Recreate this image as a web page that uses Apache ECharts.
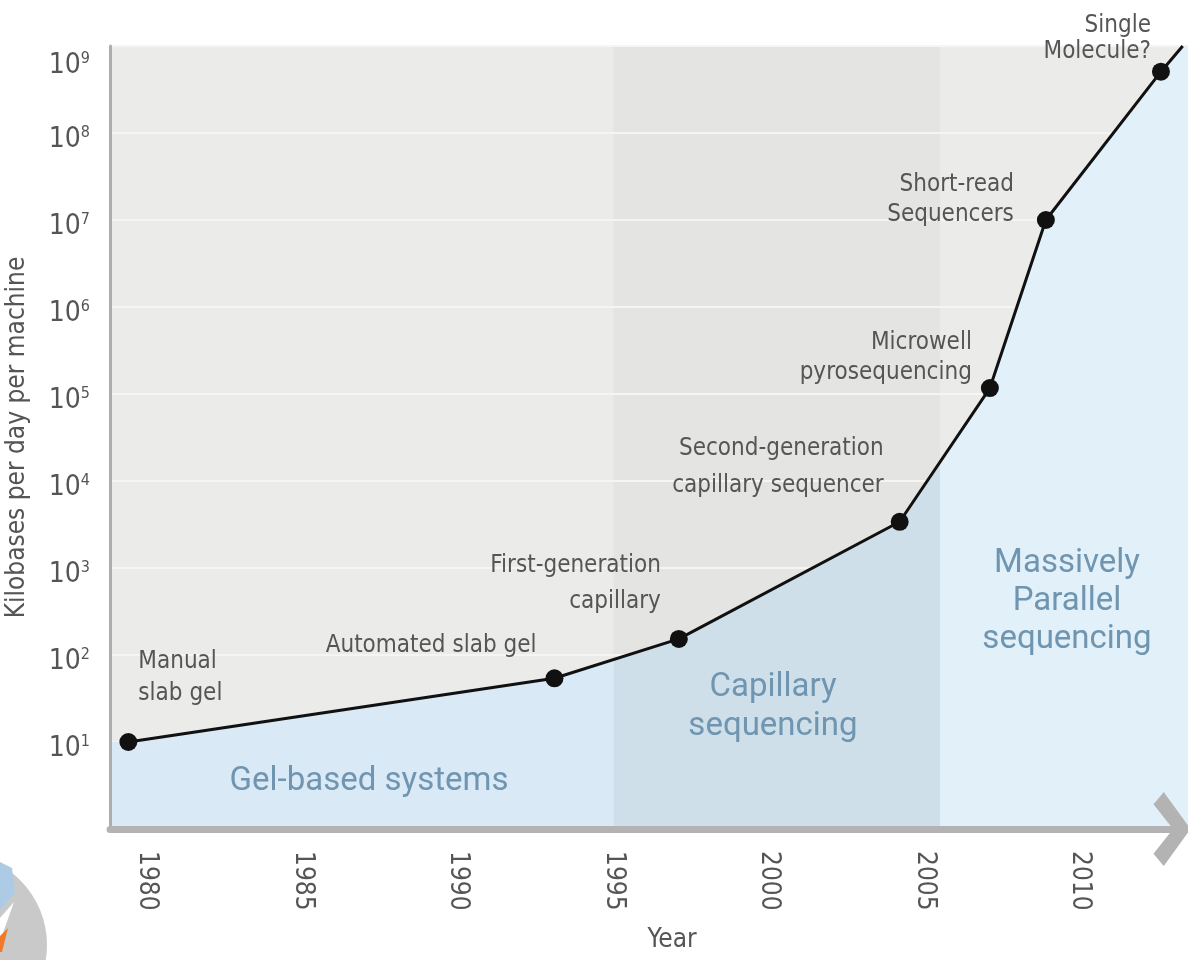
<!DOCTYPE html>
<html><head><meta charset="utf-8">
<script src="https://cdn.jsdelivr.net/npm/echarts@6/dist/echarts.min.js"></script>
<style>html,body{margin:0;padding:0;background:#fff}#c{width:1188px;height:960px}</style>
</head><body><div id="c"></div>
<script>
// ---- data ----
const years = [1979.4, 1993.1, 1997.1, 2004.2, 2007.1, 2008.9, 2012.6];
const throughput = [10, 54, 153, 3400, 117000, 10000000, 507000000];
const techNames = ['Manual\nslab gel', 'Automated slab gel', 'First-generation\ncapillary',
  'Second-generation\ncapillary sequencer', 'Microwell\npyrosequencing', 'Short-read\nSequencers', 'Single\nMolecule?'];
const trendEnd = [2013.3, 1e9];
const eraNames = ['Gel-based systems', 'Capillary\nsequencing', 'Massively\nParallel\nsequencing'];
const eraBounds = [1995, 2005.5];
const yearTicks = [1980, 1985, 1990, 1995, 2000, 2005, 2010];
const X_MIN = 1978.81, X_MAX = 2013.47;
const Y_MIN = 1, Y_MAX = 1e9;

// ---- styling / layout ----
const NARROW = '"Liberation Sans Narrow", "Arial Narrow", "DejaVu Sans Condensed", sans-serif';
const TEXT = '#555555';
const ERA = '#6f95b0';
const labelLayout = [
  {dx: 10, dy: -32, align: 'left', lh: 32},
  {dx: -18, dy: -17, align: 'right', lh: 32},
  {dx: -18, dy: -19, align: 'right', lh: 36},
  {dx: -16, dy: -17, align: 'right', lh: 37},
  {dx: -18, dy: 0, align: 'right', lh: 30},
  {dx: -32, dy: 10, align: 'right', lh: 30},
  {dx: -10, dy: -7, align: 'right', lh: 26}
];
const eraLayout = [
  {x: 369, y: 782, lh: 38},
  {x: 773, y: 707, lh: 39},
  {x: 1067, y: 602, lh: 38}
];

const points = years.map((y, i) => [y, throughput[i]]);
const lineData = points.concat([trendEnd]);
const areaData = [[X_MIN, throughput[0]]].concat(lineData, [[X_MAX, Y_MAX]]);
const f1 = (eraBounds[0] - X_MIN) / (X_MAX - X_MIN);
const f2 = (eraBounds[1] - X_MIN) / (X_MAX - X_MIN);
const blueL = '#d9e9f6', blueM = '#cfdfea', blueR = '#e2f0fa';

const chart = echarts.init(document.getElementById('c'));
const grid = {left: 110, right: 0, top: 46, bottom: 131, show: true, backgroundColor: '#ebebea', borderWidth: 0,
  containLabel: false, outerBoundsMode: 'none'};

const yFmt = v => {
  const e = Math.round(Math.log10(v));
  if (e <= 0) return '';
  return (e === 9 ? '{pt| }' : '{p| }') + '{b|10}{s|' + e + '}';
};

chart.setOption({
  animation: false,
  grid: grid,
  xAxis: {
    type: 'value', min: X_MIN, max: X_MAX, z: 10,
    name: 'Year', nameLocation: 'middle', nameGap: 98,
    nameTextStyle: {fontFamily: NARROW, fontSize: 26, color: TEXT, padding: [0, 0, 0, 46]},
    axisLine: {show: true, lineStyle: {color: '#b3b3b3', width: 7},
      symbol: ['none', 'path://M36,0 L72,26 L60,36 L36,17 L12,36 L0,26 Z'],
      symbolSize: [74, 37], symbolOffset: [0, -16]},
    axisTick: {show: false},
    splitLine: {show: false},
    axisLabel: {customValues: yearTicks, rotate: -90, margin: 22, fontFamily: NARROW, fontSize: 26, color: TEXT,
      formatter: v => String(Math.round(v))}
  },
  yAxis: [{
    type: 'log', logBase: 10, min: Y_MIN, max: Y_MAX, z: 10,
    name: 'Kilobases per day per machine', nameLocation: 'middle', nameGap: 80,
    nameTextStyle: {fontFamily: NARROW, fontSize: 26, color: TEXT},
    axisLine: {show: true, lineStyle: {color: '#adadad', width: 3}},
    axisTick: {show: false},
    splitLine: {show: false},
    axisLabel: {margin: 20, color: TEXT, formatter: yFmt,
      rich: {
        p: {fontSize: 1, lineHeight: 42},
        pt: {fontSize: 1, lineHeight: 68},
        b: {fontFamily: NARROW, fontSize: 28, color: TEXT, verticalAlign: 'bottom', lineHeight: 30},
        s: {fontFamily: NARROW, fontSize: 16, color: TEXT, verticalAlign: 'bottom', padding: [0, 0, 13, 0]}
      }}
  }, {
    type: 'log', logBase: 10, min: Y_MIN, max: Y_MAX, z: 2, position: 'left',
    axisLine: {show: false}, axisTick: {show: false}, axisLabel: {show: false},
    splitLine: {show: true, lineStyle: {color: '#f5f5f4', width: 2}}
  }],
  series: [{
    name: 'band', type: 'line', yAxisIndex: 1, z: 1, silent: true, symbol: 'none',
    data: [[eraBounds[0], Y_MAX], [eraBounds[1], Y_MAX]],
    lineStyle: {width: 0}, areaStyle: {color: '#e4e4e3', opacity: 1, origin: 'start'}
  }, {
    name: 'fill', type: 'line', yAxisIndex: 0, z: 3, silent: true, symbol: 'none',
    data: areaData, lineStyle: {width: 0},
    areaStyle: {opacity: 1, origin: 'start', color: new echarts.graphic.LinearGradient(0, 0, 1, 0, [
      {offset: 0, color: blueL}, {offset: f1, color: blueL}, {offset: f1, color: blueM},
      {offset: f2, color: blueM}, {offset: f2, color: blueR}, {offset: 1, color: blueR}])}
  }, {
    name: 'Throughput', type: 'line', yAxisIndex: 0, z: 4,
    data: lineData.map((p, i) => ({value: p, symbolSize: i < points.length ? 18 : 0})),
    symbol: 'circle', itemStyle: {color: '#111'},
    lineStyle: {color: '#111', width: 3}
  }]
});

const g = [];
points.forEach((p, i) => {
  const px = chart.convertToPixel({xAxisIndex: 0, yAxisIndex: 0}, p);
  const L = labelLayout[i];
  g.push({type: 'text', z: 100, silent: true, x: px[0] + L.dx, y: px[1] + L.dy,
    style: {text: techNames[i], fill: TEXT, fontFamily: NARROW, fontSize: 24, lineHeight: L.lh,
      align: L.align, textAlign: L.align, verticalAlign: 'bottom', textVerticalAlign: 'bottom'}});
});
eraNames.forEach((t, i) => {
  const L = eraLayout[i];
  g.push({type: 'text', z: 100, silent: true, x: L.x, y: L.y,
    style: {text: t, fill: ERA, fontFamily: 'Roboto, sans-serif', fontSize: 33, lineHeight: L.lh,
      align: 'center', textAlign: 'center', verticalAlign: 'middle', textVerticalAlign: 'middle'}});
});
// partial logo, bottom-left corner
g.push({type: 'circle', z: 100, silent: true, shape: {cx: -45, cy: 945, r: 92}, style: {fill: '#c9c9c9'}});
g.push({type: 'polygon', z: 101, silent: true, shape: {points: [[0, 862], [12, 868], [15, 893], [0, 910]]}, style: {fill: '#aecbe6'}});
g.push({type: 'polygon', z: 101, silent: true, shape: {points: [[0, 918], [14, 902], [4, 930], [0, 945]]}, style: {fill: '#ffffff'}});
g.push({type: 'polygon', z: 101, silent: true, shape: {points: [[0, 936], [8, 928], [2, 952], [0, 952]]}, style: {fill: '#f07a2a'}});
chart.setOption({graphic: g});
</script>
</body></html>
